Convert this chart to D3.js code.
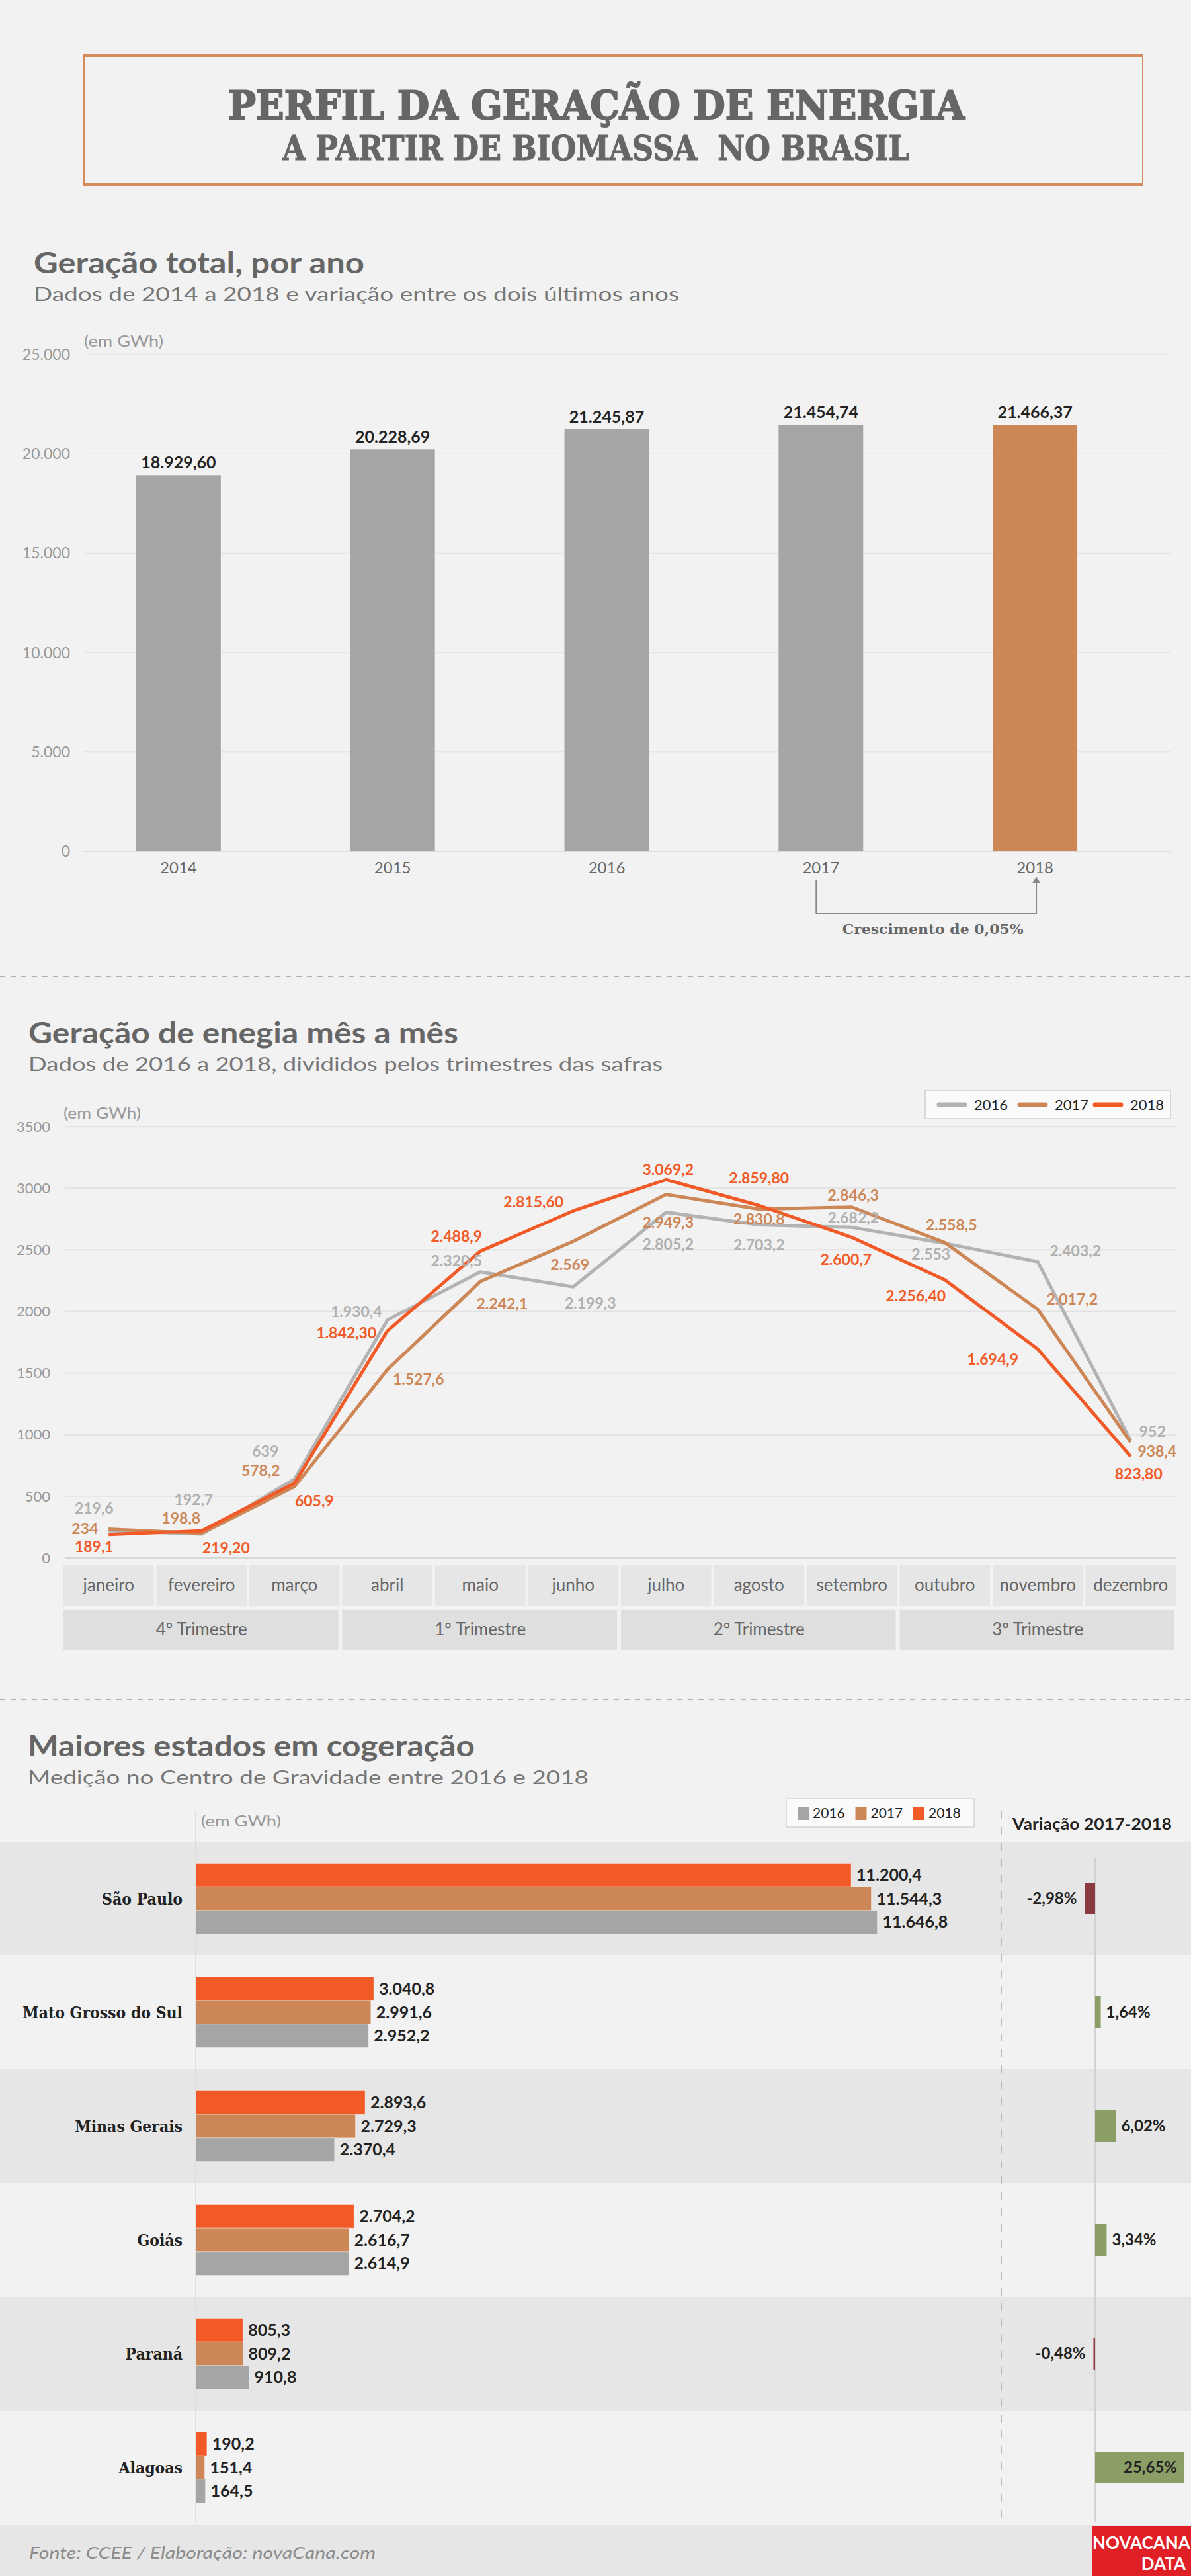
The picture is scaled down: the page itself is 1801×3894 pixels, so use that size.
<!DOCTYPE html>
<html><head><meta charset="utf-8">
<script src="https://cdn.jsdelivr.net/npm/d3@7"></script>
<style>
body{margin:0;background:#f2f2f2;}
svg{display:block;}
text{font-family:Lato,"Open Sans",sans-serif;}
</style></head><body>
<svg id="c" width="1801" height="3894"></svg>
<script>
// ---------- DATA ----------
const years = ["2014","2015","2016","2017","2018"];
const totals = [18929.60, 20228.69, 21245.87, 21454.74, 21466.37];
const totalTicks = [0, 5000, 10000, 15000, 20000, 25000];
const growthText = "Crescimento de 0,05%";

const months = ["janeiro","fevereiro","março","abril","maio","junho","julho","agosto","setembro","outubro","novembro","dezembro"];
const trimestres = ["4º Trimestre","1º Trimestre","2º Trimestre","3º Trimestre"];
const lineYears = ["2016","2017","2018"];
const gen2016 = [219.6,192.7,639,1930.4,2320.5,2199.3,2805.2,2703.2,2682.2,2553,2403.2,952];
const gen2017 = [234,198.8,578.2,1527.6,2242.1,2569,2949.3,2830.8,2846.3,2558.5,2017.2,938.4];
const gen2018 = [189.1,219.2,605.9,1842.3,2488.9,2815.6,3069.2,2859.8,2600.7,2256.4,1694.9,823.8];
const lab2016 = ["219,6","192,7","639","1.930,4","2.320,5","2.199,3","2.805,2","2.703,2","2.682,2","2.553","2.403,2","952"];
const lab2017 = ["234","198,8","578,2","1.527,6","2.242,1","2.569","2.949,3","2.830,8","2.846,3","2.558,5","2.017,2","938,4"];
const lab2018 = ["189,1","219,20","605,9","1.842,30","2.488,9","2.815,60","3.069,2","2.859,80","2.600,7","2.256,40","1.694,9","823,80"];
const lineTicks = [0,500,1000,1500,2000,2500,3000,3500];

const states = ["São Paulo","Mato Grosso do Sul","Minas Gerais","Goiás","Paraná","Alagoas"];
const st2018 = [11200.4,3040.8,2893.6,2704.2,805.3,190.2];
const st2017 = [11544.3,2991.6,2729.3,2616.7,809.2,151.4];
const st2016 = [11646.8,2952.2,2370.4,2614.9,910.8,164.5];
const variation = [-2.98,1.64,6.02,3.34,-0.48,25.65];

// label placement offsets (layout only)
const off2016 = [[-22,-34],[-12,-52],[-44,-42],[-47,-12],[-36,-17],[26,25],[3,49],[0,31],[2,-14],[-21,17],[57,-16],[33,-14]];
const off2017 = [[-36,0],[-31,-23],[-51,-24],[47,15],[33,34],[-5,36],[3,42],[0,15],[2,-18],[10,-26],[52,-15],[40,14]];
const off2018 = [[-22,18],[37,26],[30,27],[-62,3],[-36,-22],[-60,-14],[3,-15],[0,-41],[-9,33],[-44,24],[-68,16],[12,26]];

// ---------- SETUP ----------
const loc = d3.formatLocale({decimal:",", thousands:".", grouping:[3], currency:["R$",""], minus:"-"});
const f0 = loc.format(",.0f"), f1 = loc.format(",.1f"), f2 = loc.format(",.2f");
const svg = d3.select("#c");
const W = 1801;
const GRAY_T = "#666", LIGHT_T = "#999";
const C16 = "#a5a5a5", C17 = "#cd8756", C18 = "#f15a27", L16 = "#b3b3b3";

svg.append("rect").attr("width",W).attr("height",3894).attr("fill","#f2f2f2");

// ---------- HEADER ----------
const hb = svg.append("g");
hb.append("rect").attr("x",127).attr("y",84).attr("width",1601).attr("height",195)
  .attr("fill","none").attr("stroke","#d58b5c").attr("stroke-width",2);
[84,279].forEach(y=>hb.append("line").attr("x1",126).attr("x2",1729).attr("y1",y).attr("y2",y)
  .attr("stroke","#d58b5c").attr("stroke-width",4));
hb.append("text").attr("x",902).attr("y",180).attr("text-anchor","middle")
  .style("font-family","'DejaVu Serif',serif").attr("font-weight","bold").attr("font-size",60)
  .attr("fill",GRAY_T).attr("stroke",GRAY_T).attr("stroke-width",2)
  .attr("textLength",1114).attr("lengthAdjust","spacingAndGlyphs")
  .text("PERFIL DA GERAÇÃO DE ENERGIA");
hb.append("text").attr("x",901).attr("y",242).attr("text-anchor","middle")
  .style("font-family","'DejaVu Serif Condensed','DejaVu Serif',serif").style("white-space","pre")
  .attr("font-weight","bold").attr("font-size",52)
  .attr("fill",GRAY_T).attr("stroke",GRAY_T).attr("stroke-width",1)
  .attr("textLength",948).attr("lengthAdjust","spacingAndGlyphs")
  .text("A PARTIR DE BIOMASSA  NO BRASIL");

function sectionTitle(x, yb1, t1, w1, yb2, t2, w2){
  svg.append("text").attr("x",x).attr("y",yb1).attr("font-size",44).attr("font-weight","bold")
    .attr("fill",GRAY_T).attr("textLength",w1).attr("lengthAdjust","spacingAndGlyphs").text(t1);
  svg.append("text").attr("x",x).attr("y",yb2).attr("font-size",29)
    .attr("fill","#777").attr("textLength",w2).attr("lengthAdjust","spacingAndGlyphs").text(t2);
}
function dashed(y){
  svg.append("line").attr("x1",0).attr("x2",W).attr("y1",y).attr("y2",y)
    .attr("stroke","#b0b0b0").attr("stroke-width",2).attr("stroke-dasharray","8 8");
}
function unitLabel(g, x, y, w){
  g.append("text").attr("x",x).attr("y",y).attr("dy","0.35em").attr("font-size",24)
    .attr("fill",LIGHT_T).attr("textLength",w).attr("lengthAdjust","spacingAndGlyphs").text("(em GWh)");
}

// ---------- CHART 1 ----------
sectionTitle(51, 413, "Geração total, por ano", 500, 455, "Dados de 2014 a 2018 e variação entre os dois últimos anos", 976);
const x1 = d3.scaleBand().domain(years).range([108,1727]).paddingInner(0.605).paddingOuter(0.3025);
const y1 = d3.scaleLinear().domain([0,25000]).range([1287,536]);
const g1 = svg.append("g");
g1.selectAll(".gr").data(totalTicks).join("line")
  .attr("x1",127).attr("x2",1771).attr("y1",d=>y1(d)).attr("y2",d=>y1(d))
  .attr("stroke",d=>d===0?"#dcdcdc":"#e6e6e6").attr("stroke-width",d=>d===0?2:1.5);
g1.selectAll(".tk").data(totalTicks).join("text")
  .attr("x",106).attr("y",d=>y1(d)).attr("dy","0.35em").attr("text-anchor","end")
  .attr("font-size",23).attr("fill",LIGHT_T).text(d=>f0(d));
unitLabel(g1, 127, 516, 120);
g1.selectAll(".bar").data(totals).join("rect")
  .attr("x",(d,i)=>x1(years[i])).attr("width",x1.bandwidth())
  .attr("y",d=>y1(d)).attr("height",d=>y1(0)-y1(d))
  .attr("fill",(d,i)=>i===years.length-1?C17:C16);
g1.selectAll(".vl").data(totals).join("text")
  .attr("x",(d,i)=>x1(years[i])+x1.bandwidth()/2).attr("y",d=>y1(d)-10)
  .attr("text-anchor","middle").attr("font-size",25).attr("font-weight","bold").attr("fill","#222")
  .text(d=>f2(d));
g1.selectAll(".yl").data(years).join("text")
  .attr("x",d=>x1(d)+x1.bandwidth()/2).attr("y",1312).attr("dy","0.35em")
  .attr("text-anchor","middle").attr("font-size",24).attr("fill",GRAY_T).text(d=>d);
// growth annotation 2017 -> 2018
{
  const cA = x1("2017")+x1.bandwidth()/2 - 7, cB = x1("2018")+x1.bandwidth()/2 + 2;
  g1.append("path").attr("d",`M${cA},1331V1381H${cB}V1334`).attr("fill","none")
    .attr("stroke","#888").attr("stroke-width",2);
  g1.append("path").attr("d",`M${cB-6},1335L${cB},1325L${cB+6},1335Z`).attr("fill","#888");
  g1.append("text").attr("x",(cA+cB)/2+10).attr("y",1405).attr("dy","0.35em").attr("text-anchor","middle")
    .style("font-family","'DejaVu Serif',serif").attr("font-weight","bold").attr("font-size",20)
    .attr("fill",GRAY_T).attr("textLength",274).attr("lengthAdjust","spacingAndGlyphs").text(growthText);
}
dashed(1476);

// ---------- CHART 2 ----------
sectionTitle(43, 1577, "Geração de enegia mês a mês", 650, 1619, "Dados de 2016 a 2018, divididos pelos trimestres das safras", 959);
const x2 = d3.scaleBand().domain(months).range([94,1780]);
const y2 = d3.scaleLinear().domain([0,3500]).range([2355,1703]);
const cx2 = m => x2(m)+x2.bandwidth()/2;
const g2 = svg.append("g");
g2.selectAll(".gr").data(lineTicks).join("line")
  .attr("x1",98).attr("x2",1778).attr("y1",d=>y2(d)).attr("y2",d=>y2(d))
  .attr("stroke",d=>d===0?"#d8d8d8":"#e2e2e2").attr("stroke-width",2);
g2.selectAll(".tk").data(lineTicks).join("text")
  .attr("x",76).attr("y",d=>y2(d)).attr("dy","0.35em").attr("text-anchor","end")
  .attr("font-size",22).attr("fill",LIGHT_T).text(d=>d);
unitLabel(g2, 96, 1683, 117);
// month & trimester cells
g2.selectAll(".mc").data(months).join("rect")
  .attr("x",d=>x2(d)+2).attr("width",x2.bandwidth()-4).attr("y",2365).attr("height",62).attr("fill","#e6e6e6");
g2.selectAll(".ml").data(months).join("text")
  .attr("x",d=>cx2(d)).attr("y",2396).attr("dy","0.35em").attr("text-anchor","middle")
  .attr("font-size",26).attr("fill",GRAY_T).text(d=>d);
g2.selectAll(".tc").data(trimestres).join("rect")
  .attr("x",(d,i)=>x2(months[i*3])+2).attr("width",x2.bandwidth()*3-6).attr("y",2433).attr("height",61).attr("fill","#dfdfdf");
g2.selectAll(".tl").data(trimestres).join("text")
  .attr("x",(d,i)=>x2(months[i*3])+x2.bandwidth()*1.5).attr("y",2463).attr("dy","0.35em").attr("text-anchor","middle")
  .attr("font-size",26).attr("fill",GRAY_T).text(d=>d);
// lines
const series = [
  {name:"2016", vals:gen2016, labs:lab2016, off:off2016, color:L16, lab:"#b0b0b0"},
  {name:"2017", vals:gen2017, labs:lab2017, off:off2017, color:C17, lab:C17},
  {name:"2018", vals:gen2018, labs:lab2018, off:off2018, color:C18, lab:C18}
];
const line2 = d3.line().x((d,i)=>cx2(months[i])).y(d=>y2(d));
series.forEach(s=>{
  g2.append("path").attr("d",line2(s.vals)).attr("fill","none").attr("stroke",s.color)
    .attr("stroke-width",5).attr("stroke-linejoin","round");
});
series.forEach(s=>{
  g2.selectAll(null).data(s.vals).join("text")
    .attr("x",(d,i)=>cx2(months[i])+s.off[i][0]).attr("y",(d,i)=>y2(d)+s.off[i][1])
    .attr("dy","0.35em").attr("text-anchor","middle").attr("font-size",23).attr("font-weight","bold")
    .attr("fill",s.lab).text((d,i)=>s.labs[i]);
});
// legend
{
  const lg = g2.append("g");
  lg.append("rect").attr("x",1399).attr("y",1648).attr("width",371).attr("height",43)
    .attr("fill","#fafafa").attr("stroke","#cfcfcf").attr("stroke-width",1.5);
  const lx = d3.scalePoint().domain(lineYears).range([1420,1656]);
  series.forEach(s=>{
    const x = lx(s.name) + (s.name==="2017"?4:0);
    lg.append("line").attr("x1",x).attr("x2",x+39).attr("y1",1670).attr("y2",1670)
      .attr("stroke",s.color).attr("stroke-width",7).attr("stroke-linecap","round");
    lg.append("text").attr("x",x+53).attr("y",1670).attr("dy","0.35em").attr("font-size",22)
      .attr("fill","#222").text(s.name);
  });
}
dashed(2569);

// ---------- CHART 3 ----------
sectionTitle(42, 2655, "Maiores estados em cogeração", 676, 2697, "Medição no Centro de Gravidade entre 2016 e 2018", 848);
const yRow = d3.scaleBand().domain(states).range([2784,3816]);
const yIn = d3.scaleBand().domain(["2018","2017","2016"]).range([-53.5,53.5]);
const x3 = d3.scaleLinear().domain([0,12000]).range([296,1357.8]);
const xv = d3.scaleLinear().domain([0,25.65]).range([1656,1790]);
const g3 = svg.append("g");
// stripes
g3.selectAll(".st").data(states.filter((d,i)=>i%2===0)).join("rect")
  .attr("x",0).attr("width",W).attr("y",d=>yRow(d)).attr("height",yRow.bandwidth()).attr("fill","#e6e6e6");
// axis lines
g3.append("line").attr("x1",296).attr("x2",296).attr("y1",2738).attr("y2",3812).attr("stroke","#d8d8d8").attr("stroke-width",1.5);
g3.append("line").attr("x1",1514).attr("x2",1514).attr("y1",2738).attr("y2",3806).attr("stroke","#aaa")
  .attr("stroke-width",1.5).attr("stroke-dasharray","12 12");
g3.append("line").attr("x1",xv(0)).attr("x2",xv(0)).attr("y1",2808).attr("y2",3812).attr("stroke","#d2d2d2").attr("stroke-width",2);
unitLabel(g3, 304, 2753, 121);
g3.append("text").attr("x",1531).attr("y",2758).attr("dy","0.35em").attr("font-size",24).attr("font-weight","bold")
  .attr("fill","#222").attr("textLength",241).attr("lengthAdjust","spacingAndGlyphs").text("Variação 2017-2018");
// legend
{
  const lg = g3.append("g");
  lg.append("rect").attr("x",1189).attr("y",2719).attr("width",284).attr("height",43)
    .attr("fill","#fafafa").attr("stroke","#d5d5d5").attr("stroke-width",1.5);
  const lx = d3.scalePoint().domain(lineYears).range([1206,1381]);
  const cols = {"2016":C16,"2017":C17,"2018":C18};
  lineYears.forEach(y=>{
    lg.append("rect").attr("x",lx(y)).attr("y",2731).attr("width",17).attr("height",20).attr("fill",cols[y]);
    lg.append("text").attr("x",lx(y)+23).attr("y",2741).attr("dy","0.35em").attr("font-size",21).attr("fill","#222").text(y);
  });
}
// state labels
g3.selectAll(".sl").data(states).join("text")
  .attr("x",276).attr("y",d=>yRow(d)+yRow.bandwidth()/2).attr("dy","0.35em").attr("text-anchor","end")
  .style("font-family","'DejaVu Serif Condensed','DejaVu Serif',serif").attr("font-weight","bold")
  .attr("font-size",24.5).attr("fill","#222").text(d=>d);
// bars
const stSeries = [{k:"2018",v:st2018,c:C18},{k:"2017",v:st2017,c:C17},{k:"2016",v:st2016,c:C16}];
stSeries.forEach(s=>{
  g3.selectAll(null).data(s.v).join("rect")
    .attr("x",x3(0)).attr("width",d=>x3(d)-x3(0))
    .attr("y",(d,i)=>yRow(states[i])+yRow.bandwidth()/2+yIn(s.k)).attr("height",yIn.bandwidth())
    .attr("fill",s.c).attr("stroke","rgba(255,255,255,0.35)").attr("stroke-width",1);
  g3.selectAll(null).data(s.v).join("text")
    .attr("x",d=>x3(d)+8).attr("y",(d,i)=>yRow(states[i])+yRow.bandwidth()/2+yIn(s.k)+yIn.bandwidth()/2)
    .attr("dy","0.35em").attr("font-size",25).attr("font-weight","bold").attr("fill","#222").text(d=>f1(d));
});
// variation bars
g3.selectAll(".vb").data(variation).join("rect")
  .attr("x",d=>Math.min(xv(0),xv(d))).attr("width",d=>Math.max(1.5,Math.abs(xv(d)-xv(0))))
  .attr("y",(d,i)=>yRow(states[i])+yRow.bandwidth()/2-24).attr("height",48)
  .attr("fill",d=>d<0?"#8b3a42":"#8a9e66");
g3.selectAll(".vt").data(variation).join("text")
  .attr("x",d=>{ if(d<0) return Math.min(xv(0),xv(d))-12; return xv(d)+78>W?xv(d)-10:xv(d)+8; })
  .attr("text-anchor",d=>(d<0||xv(d)+78>W)?"end":"start")
  .attr("y",(d,i)=>yRow(states[i])+yRow.bandwidth()/2).attr("dy","0.35em")
  .attr("font-size",24).attr("font-weight","bold").attr("fill","#222").text(d=>f2(d)+"%");

// ---------- FOOTER ----------
svg.append("rect").attr("x",0).attr("y",3817).attr("width",W).attr("height",77).attr("fill","#e6e6e6");
svg.append("text").attr("x",44).attr("y",3859).attr("dy","0.35em").attr("font-size",26).attr("font-style","italic")
  .attr("fill","#8c8c8c").attr("textLength",524).attr("lengthAdjust","spacingAndGlyphs").text("Fonte: CCEE / Elaboração: novaCana.com");
svg.append("rect").attr("x",1652).attr("y",3818).attr("width",149).attr("height",76).attr("fill","#e01f26");
svg.append("text").attr("x",1726).attr("y",3853).attr("text-anchor","middle").attr("font-size",26).attr("font-weight","bold")
  .attr("fill","#fff").text("NOVACANA");
svg.append("text").attr("x",1793).attr("y",3885).attr("text-anchor","end").attr("font-size",26).attr("font-weight","bold")
  .attr("fill","#fff").text("DATA");
</script>
</body></html>
